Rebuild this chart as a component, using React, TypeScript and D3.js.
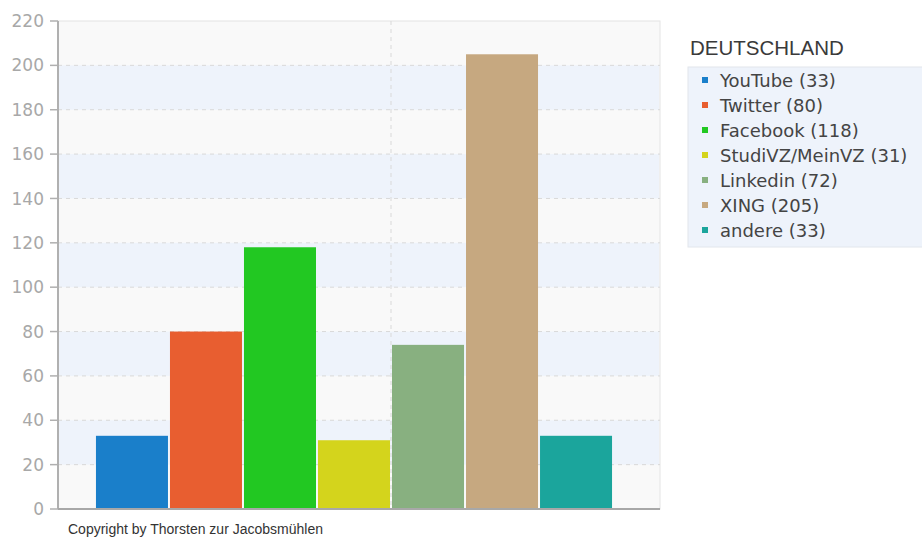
import React from "react";
import * as d3 from "d3";

const categories = ["YouTube", "Twitter", "Facebook", "StudiVZ/MeinVZ", "Linkedin", "XING", "andere"];
const barValues = [33, 80, 118, 31, 74, 205, 33];
const legendCounts = [33, 80, 118, 31, 72, 205, 33];
const colors = ["#1a7fca", "#e85e30", "#22c822", "#d4d41c", "#88b080", "#c6a880", "#1ba59c"];
const yTicks = [0, 20, 40, 60, 80, 100, 120, 140, 160, 180, 200, 220];
const legendTitle = "DEUTSCHLAND";
const copyright = "Copyright by Thorsten zur Jacobsmühlen";

const W = 922;
const H = 540;
const plotLeft = 58;
const plotRight = 660;
const plotTop = 21;
const plotBottom = 509;

export default function App() {
  const y = d3.scaleLinear().domain([0, 220]).range([plotBottom, plotTop]);
  const x = d3
    .scaleBand<string>()
    .domain(categories)
    .range([95, 613])
    .paddingInner(0.027)
    .paddingOuter(0.013);
  const bands = d3.range(0, 220, 20);
  const gap = x.step() - x.bandwidth();
  const vLineX = (x(categories[4]) as number) - gap / 2;

  return (
    <svg
      width={W}
      height={H}
      style={{ position: "absolute", left: 0, top: 0, display: "block" }}
    >
      <rect x={0} y={0} width={W} height={H} fill="#ffffff" />
      <rect
        x={plotLeft}
        y={plotTop}
        width={plotRight - plotLeft}
        height={plotBottom - plotTop}
        fill="#f9f9f9"
        stroke="#e4e4e4"
        strokeWidth={1}
      />
      {bands.map((b, i) =>
        (b / 20) % 2 === 1 ? (
          <rect
            key={"band" + i}
            x={plotLeft + 1}
            y={y(b + 20)}
            width={plotRight - plotLeft - 2}
            height={y(b) - y(b + 20)}
            fill="#eef3fb"
          />
        ) : null
      )}
      {yTicks
        .filter((t) => t > 0 && t < 220)
        .map((t) => (
          <line
            key={"g" + t}
            x1={plotLeft}
            x2={plotRight}
            y1={y(t)}
            y2={y(t)}
            stroke="#d9d9d9"
            strokeDasharray="4,4"
          />
        ))}
      <line
        x1={vLineX}
        x2={vLineX}
        y1={plotTop}
        y2={plotBottom}
        stroke="#d9d9d9"
        strokeDasharray="4,4"
      />
      {categories.map((c, i) => (
        <rect
          key={c}
          x={x(c)}
          y={y(barValues[i])}
          width={x.bandwidth()}
          height={y(0) - y(barValues[i])}
          fill={colors[i]}
        />
      ))}
      <line x1={plotLeft} x2={plotLeft} y1={plotTop} y2={plotBottom} stroke="#b0b0b0" strokeWidth={2} />
      <line x1={plotLeft} x2={plotRight} y1={plotBottom} y2={plotBottom} stroke="#a8a8a8" strokeWidth={2} />
      {yTicks.map((t) => (
        <g key={"t" + t}>
          <line x1={plotLeft - 8} x2={plotLeft} y1={y(t)} y2={y(t)} stroke="#b0b0b0" strokeWidth={1.5} />
          <text
            x={plotLeft - 14}
            y={y(t)}
            dy="0.36em"
            textAnchor="end"
            fontFamily="DejaVu Sans"
            fontSize={17}
            fill="#a8a8a8"
          >
            {t}
          </text>
        </g>
      ))}
      <text x={68} y={534} fontFamily="Liberation Sans, Arial" fontSize={14} fill="#333">
        {copyright}
      </text>
      <text x={690} y={55} fontFamily="Liberation Sans, Arial" fontSize={20.5} fill="#3a3a3a">
        {legendTitle}
      </text>
      <rect x={688} y={67} width={240} height={180} fill="#eef3fb" stroke="#e2e6ec" strokeWidth={1} />
      {categories.map((c, i) => (
        <g key={"lg" + c}>
          <rect x={702} y={87 + i * 25 - 10} width={6} height={6} fill={colors[i]} />
          <text x={720} y={87 + i * 25} fontFamily="DejaVu Sans" fontSize={18} fill="#444">
            {`${c} (${legendCounts[i]})`}
          </text>
        </g>
      ))}
    </svg>
  );
}
